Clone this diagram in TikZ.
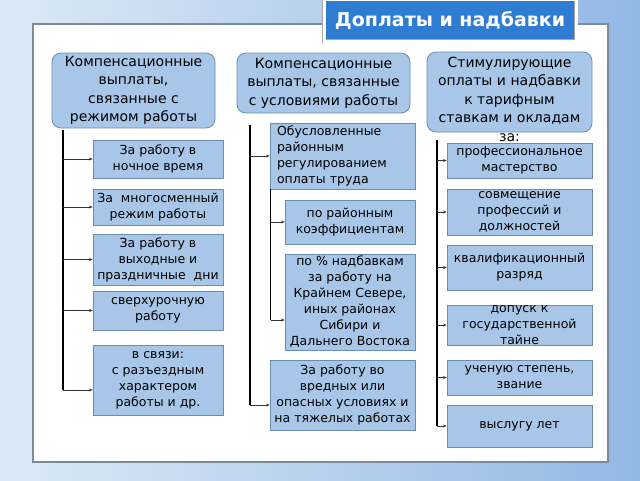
\documentclass[tikz,border=0pt]{standalone}
\usepackage{fontspec}
\setmainfont{DejaVu Sans}
\usepackage{tikz}
\usetikzlibrary{arrows.meta}

\definecolor{bgleft}{RGB}{220,233,246}
\definecolor{bgright}{RGB}{146,184,228}
\definecolor{titleblue}{RGB}{46,125,210}
\definecolor{boxfill}{RGB}{168,199,232}
\definecolor{boxline}{RGB}{110,140,178}
\definecolor{panelline}{RGB}{125,138,155}

\tikzset{
hdr/.style={rounded corners=9pt, fill=boxfill, draw=boxline, line width=0.8pt,
	align=center, inner sep=0pt, font=\fontsize{14}{18.5}\selectfont},
hdrtext/.style={align=center, inner sep=0pt, font=\fontsize{14}{18.5}\selectfont},
leaf/.style={fill=boxfill, draw=boxline, line width=0.8pt, align=center,
	inner sep=0pt, minimum width=#1, font=\fontsize{12.5}{16}\selectfont},
leaf/.default=130,
titlebox/.style={fill=titleblue, draw=gray!70, double=white, double distance=3pt,
	line width=0.7pt, text=white, minimum width=252, minimum height=42,
	font=\bfseries\fontsize{19}{22}\selectfont},
stem/.style={line width=1.6pt, black},
arr/.style={-{Stealth[length=3.5pt,width=3pt]}, line width=0.6pt, black!80}
}

\begin{document}
\begin{tikzpicture}[x=1pt,y=-1pt]
\useasboundingbox (0,0) rectangle (640,480);
\shade[left color=bgleft, right color=bgright] (0,0) rectangle (640,480);
\draw[fill=white, draw=panelline, line width=1.5pt] (33,24) rectangle (608,462);
\node[titlebox] (title) at (450,20) {Доплаты и надбавки};

\node[hdr, minimum width=163, minimum height=75] (h1) at (133.5,90.5)
	{Компенсационные\\выплаты,\\связанные с\\режимом работы};
\node[hdr, minimum width=173, minimum height=60] (h2) at (323.5,83)
	{Компенсационные\\выплаты, связанные\\с условиями работы};
\node[hdr, minimum width=165, minimum height=80] (h3) at (509.5,92) {};
\node[hdrtext] (h3t) at (509.5,99)
	{Стимулирующие\\оплаты и надбавки\\к тарифным\\ставкам и окладам\\за:};

\node[leaf, minimum height=38] (b1) at (158,159) {За работу в\\ночное время};
\node[leaf, minimum height=36] (b2) at (158,207) {За\ \ многосменный\\режим работы};
\node[leaf, minimum height=51] (b3) at (158,259.5) {За работу в\\выходные и\\праздничные\ \ дни};
\node[leaf, minimum height=39] (b4) at (158,310.5) {сверхурочную\\работу};
\node[leaf, minimum height=70] (b5) at (158,380) {в связи:\\с разъездным\\характером\\работы и др.};

\node[leaf=145, minimum height=66, text width=131, inner xsep=7pt, align=left] (c1) at (342.5,156)
	{Обусловленные\\районным\\регулированием\\оплаты труда};
\node[leaf, minimum height=44] (c2) at (350,222) {по районным\\коэффициентам};
\node[leaf, minimum height=96] (c3) at (350,302)
	{по \% надбавкам\\за работу на\\Крайнем Севере,\\иных районах\\Сибири и\\Дальнего Востока};
\node[leaf=145, minimum height=70] (c4) at (342.5,395)
	{За работу во\\вредных или\\опасных условиях и\\на тяжелых работах};

\node[leaf=145, minimum height=35] (d1) at (519.5,160.5) {профессиональное\\мастерство};
\node[leaf=145, minimum height=46] (d2) at (519.5,212) {совмещение\\профессий и\\должностей};
\node[leaf=145, minimum height=45] (d3) at (519.5,267.5) {квалификационный\\разряд};
\node[leaf=145, minimum height=40] (d4) at (519.5,325) {допуск к\\государственной\\тайне};
\node[leaf=145, minimum height=35] (d5) at (519.5,377.5) {ученую степень,\\звание};
\node[leaf=145, minimum height=42] (d6) at (519.5,426) {выслугу лет};

\coordinate (s1) at (63,130);
\coordinate (e5) at ([yshift=-10pt]b5.west);
\draw[stem] (s1) -- (e5 -| s1);
\foreach \n in {b1,b2,b3,b4}
	\draw[arr] (\n.west -| s1) -- (\n.west);
\draw[arr] (e5 -| s1) -- (e5);

\coordinate (s2) at (250,125);
\coordinate (e4) at ([yshift=-10pt]c4.west);
\draw[stem] (s2) -- (e4 -| s2);
\draw[arr] (c1.west -| s2) -- (c1.west);
\draw[arr] (e4 -| s2) -- (e4);

\coordinate (s3) at ([xshift=1pt]c1.south west);
\coordinate (e3) at ([yshift=-18pt]c3.west);
\draw[stem] (s3) -- (e3 -| s3);
\draw[arr] (c2.west -| s3) -- (c2.west);
\draw[arr] (e3 -| s3) -- (e3);

\coordinate (s4) at (437,140);
\draw[stem] (s4) -- (d6.west -| s4);
\foreach \n in {d1,d2,d3,d4,d5,d6}
	\draw[arr] (\n.west -| s4) -- (\n.west);
\end{tikzpicture}
\end{document}
